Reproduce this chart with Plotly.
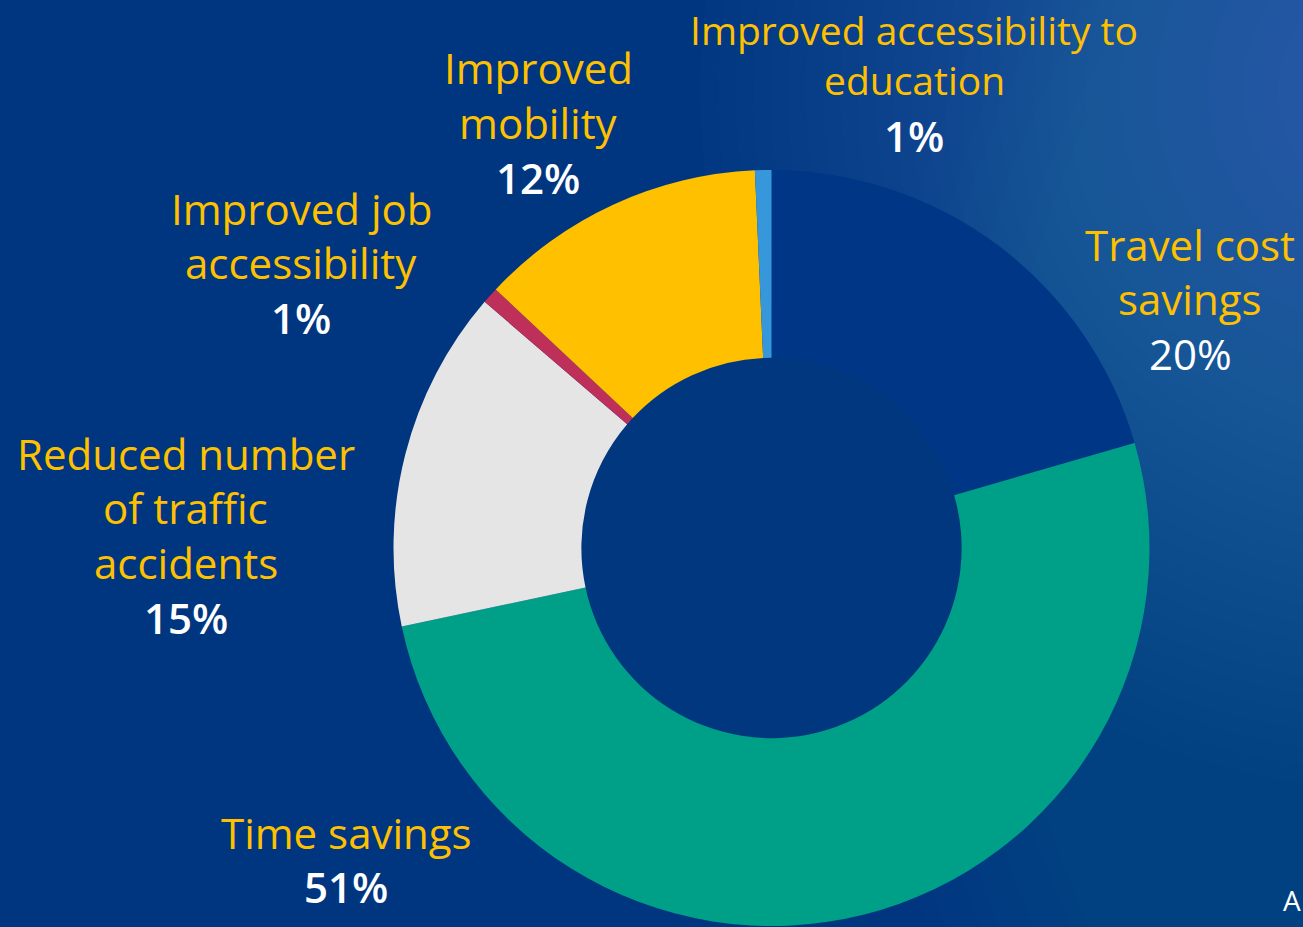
import plotly.graph_objects as go

# ---- data ----
categories = [
    "Travel cost savings",
    "Time savings",
    "Reduced number of traffic accidents",
    "Improved job accessibility",
    "Improved mobility",
    "Improved accessibility to education",
]
# slice sizes (angles)
values = [20.5, 51.1, 14.6, 0.7, 12.3, 0.7]
# percentages as printed on the chart
pct_labels = ["20%", "51%", "15%", "1%", "12%", "1%"]
# label line breaks as printed
label_lines = [
    ["Travel cost", "savings"],
    ["Time savings"],
    ["Reduced number", "of traffic", "accidents"],
    ["Improved job", "accessibility"],
    ["Improved", "mobility"],
    ["Improved accessibility to", "education"],
]

# ---- styles ----
W, H = 1303, 927
colors = ["#003686", "#00A088", "#E5E5E5", "#BE2F5A", "#FFC000", "#3697DA"]
bg = "#00367F"
yellow = "#FFC000"
FONT = "Open Sans"
# row centre y positions (pixels) for each label block, last row = percentage
label_x = [1190, 346, 186, 301, 538, 914]
label_rows = [
    [244, 298, 353],
    [832, 886],
    [453, 508, 562, 617],
    [208, 263, 318],
    [68, 122, 177],
    [30, 79, 136],
]
font_sizes = [42, 42, 42, 42, 42, 39]
pct_weight = [400, 600, 600, 600, 600, 600]

cx, cy, R, HOLE = 771.5, 548, 378, 0.503

fig = go.Figure(
    go.Pie(
        labels=categories,
        values=values,
        sort=False,
        direction="clockwise",
        rotation=0,
        hole=HOLE,
        marker=dict(colors=colors, line=dict(width=0)),
        textinfo="none",
        hoverinfo="label+value",
        showlegend=False,
        domain=dict(x=[(cx - R) / W, (cx + R) / W], y=[1 - (cy + R) / H, 1 - (cy - R) / H]),
    )
)


def ellipse(x, y, rx, ry, color, op):
    return dict(
        type="circle", xref="paper", yref="paper", layer="below",
        x0=(x - rx) / W, x1=(x + rx) / W,
        y0=1 - (y + ry) / H, y1=1 - (y - ry) / H,
        fillcolor=color, opacity=op, line=dict(width=0),
    )


# background gradient: soft lighter glow towards the right / upper right
shapes = []
N = 40
for i in range(N):
    t = 1 - i / N
    shapes.append(ellipse(1480, 520, 620 * t, 900 * t, "#3A78BC", 0.016))
for i in range(N):
    t = 1 - i / N
    shapes.append(ellipse(1400, 90, 700 * t, 700 * t, "#5590CE", 0.022))
# plain fill behind the doughnut hole
rh = R * HOLE
shapes.append(ellipse(cx, cy, rh + 2, rh + 2, "#00377F", 1))

annotations = []
for lines, pct, px, rows, fs, pw in zip(label_lines, pct_labels, label_x, label_rows, font_sizes, pct_weight):
    texts = [(t, yellow, 400, fs) for t in lines] + [(pct, "white", pw, 42)]
    for (t, col, wgt, f), py in zip(texts, rows):
        annotations.append(dict(
            x=px / W, y=1 - py / H, xref="paper", yref="paper",
            text=t, showarrow=False, xanchor="center", yanchor="middle",
            font=dict(family=FONT, size=f, color=col, weight=wgt),
        ))

annotations.append(dict(
    x=1303 / W, y=1 - 900 / H, xref="paper", yref="paper", text="A",
    showarrow=False, xanchor="right", yanchor="middle",
    font=dict(family=FONT, size=28, color="white"),
))

fig.update_layout(
    width=W, height=H,
    margin=dict(l=0, r=0, t=0, b=0),
    paper_bgcolor=bg, plot_bgcolor=bg,
    shapes=shapes, annotations=annotations,
)

fig.write_html("out.html", config={"displayModeBar": False})

# remove the default page margin so the figure fills the window exactly
with open("out.html", encoding="utf-8") as fh:
    html = fh.read()
html = html.replace("<head>", "<head><style>html,body{margin:0;padding:0;background:%s;}</style>" % bg, 1)
with open("out.html", "w", encoding="utf-8") as fh:
    fh.write(html)
